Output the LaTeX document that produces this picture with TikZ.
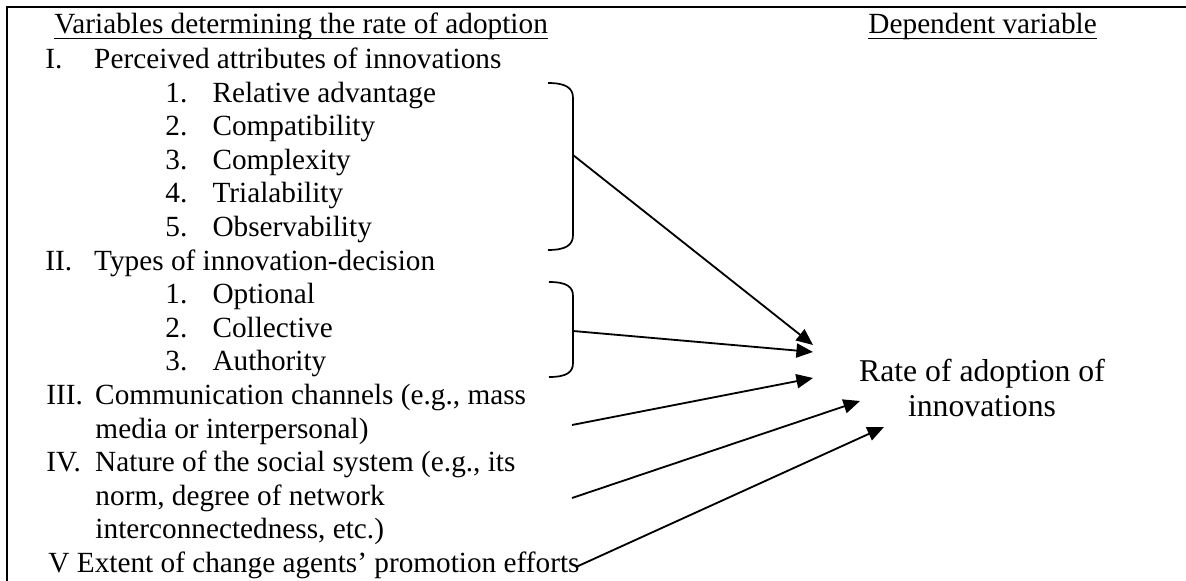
\documentclass[tikz,border=0pt]{standalone}
\usepackage{fontspec}
\setmainfont{Liberation Serif}
\usetikzlibrary{arrows.meta}
\tikzset{
  txt/.style={anchor=base west, inner sep=0pt, font=\fontsize{12}{13.8}\selectfont},
  big/.style={anchor=base, inner sep=0pt, font=\fontsize{13}{15}\selectfont},
  brace/.style={line width=0.7pt},
  arr/.style={line width=0.75pt, -{Triangle[length=6.8pt,width=5.8pt]}},
}
\newcommand\romitm[2]{\makebox[20pt][l]{#1}#2}
\newcommand\subitm[2]{\makebox[19.3pt][l]{#1}#2}
\begin{document}
\begin{tikzpicture}[x=0.41pt,y=-0.41pt]
\useasboundingbox (0,0) rectangle (1186,581);
% frame
\draw[line width=0.85pt] (1186,7) -- (7,7) -- (7,581);
% headers
\node[txt] (hdvar) at (54,34) {Variables determining the rate of adoption};
\node[txt] (hddep) at (868,34) {Dependent variable};
\draw[line width=0.45pt] ([yshift=-1.8pt]hdvar.base west) -- ([yshift=-1.8pt]hdvar.base east);
\draw[line width=0.45pt] ([yshift=-1.8pt]hddep.base west) -- ([yshift=-1.8pt]hddep.base east);
% I
\node[txt] (attr) at (45,68.5) {\romitm{I.}{Perceived attributes of innovations}};
\node[txt] (adv) at (165,102.1) {\subitm{1.}{Relative advantage}};
\node[txt] (compat) at (165,135.7) {\subitm{2.}{Compatibility}};
\node[txt] (cmplx) at (165,169.3) {\subitm{3.}{Complexity}};
\node[txt] (trial) at (165,202.9) {\subitm{4.}{Trialability}};
\node[txt] (obs) at (165,236.5) {\subitm{5.}{Observability}};
% II
\node[txt] (types) at (45,270.1) {\romitm{II.}{Types of innovation-decision}};
\node[txt] (opt) at (165,303.7) {\subitm{1.}{Optional}};
\node[txt] (coll) at (165,337.3) {\subitm{2.}{Collective}};
\node[txt] (auth) at (165,370.9) {\subitm{3.}{Authority}};
% III - V
\node[txt] (comm) at (46,404.5) {\romitm{III.}{Communication channels (e.g., mass}};
\node[txt] (comm2) at (95,438.1) {media or interpersonal)};
\node[txt] (soc) at (46,471.7) {\romitm{IV.}{Nature of the social system (e.g., its}};
\node[txt] (soc2) at (95,505.3) {norm, degree of network};
\node[txt] (soc3) at (95,538.9) {interconnectedness, etc.)};
\node[txt] (agents) at (48,572.5) {V Extent of change agents’ promotion efforts};
% dependent
\node[big] (rate) at (982,382) {Rate of adoption of};
\node[big] (rate2) at (982,417) {innovations};
% brackets
\draw[brace] (548,83) .. controls (566,83) and (573,88) .. (573,98) -- (573,235)
  .. controls (573,245) and (566,250) .. (548,250);
\draw[brace] (549,282) .. controls (567,282) and (573,287) .. (573,296) -- (573,363)
  .. controls (573,372) and (567,377) .. (549,377);
\coordinate (b1) at (573,155);
\coordinate (b2) at (573,331);
\coordinate (b3) at (572,425);
\coordinate (b4) at (572,498);
\coordinate (b5) at (576,567);
\coordinate (t1) at (813,345);
\coordinate (t2) at (813,352);
\coordinate (t3) at (813,378);
\coordinate (t4) at (860,401);
\coordinate (t5) at (884,427);
% arrows
\draw[arr] (b1) -- (t1);
\draw[arr] (b2) -- (t2);
\draw[arr] (b3) -- (t3);
\draw[arr] (b4) -- (t4);
\draw[arr] (b5) -- (t5);
\end{tikzpicture}
\end{document}
